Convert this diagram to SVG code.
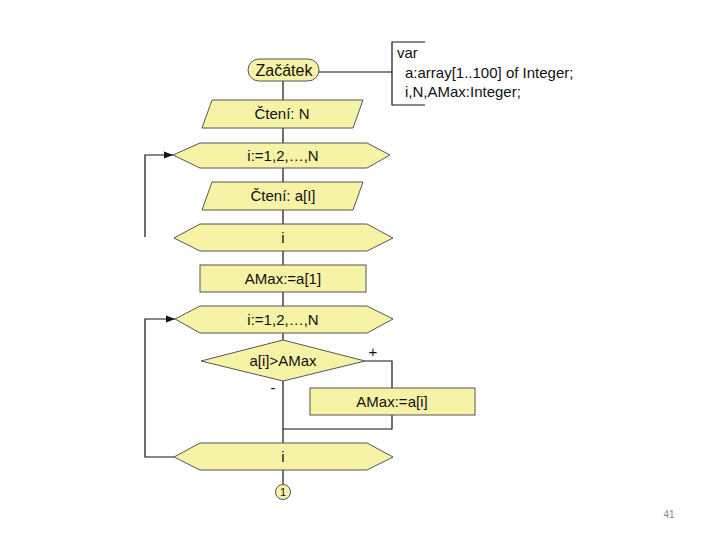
<svg xmlns="http://www.w3.org/2000/svg" width="720" height="540" viewBox="0 0 720 540">
<defs>
<style>
.n{fill:#f7f3a6;stroke:#555;stroke-width:1}
.t{font-family:"Liberation Sans",Arial,sans-serif;font-size:15px;fill:#111;text-anchor:middle}
.c{fill:none;stroke:#111;stroke-width:1.2}
.v{font-family:"Liberation Sans",Arial,sans-serif;font-size:15px;fill:#111}
</style>
<marker id="ah" viewBox="0 0 10 10" refX="10" refY="5" markerWidth="9" markerHeight="9" markerUnits="userSpaceOnUse" orient="auto">
<path d="M0,1 L10,5 L0,9 z" fill="#111"/>
</marker>
</defs>
<rect width="720" height="540" fill="#fff"/>
<g id="connectors">
<line class="c" x1="283" y1="81" x2="283" y2="100"/>
<line class="c" x1="319" y1="72" x2="392" y2="72"/>
<line class="c" x1="283" y1="128" x2="283" y2="143"/>
<line class="c" x1="283" y1="168" x2="283" y2="182"/>
<line class="c" x1="283" y1="210" x2="283" y2="224"/>
<line class="c" x1="283" y1="251" x2="283" y2="265"/>
<line class="c" x1="283" y1="292" x2="283" y2="306"/>
<line class="c" x1="283" y1="333" x2="283" y2="340"/>
<path class="c" d="M145,237 V155 H173" marker-end="url(#ah)"/>
<path class="c" d="M365,361 H392 V388"/>
<line class="c" x1="283" y1="381" x2="283" y2="443"/>
<path class="c" d="M392,415 V429 H283"/>
<path class="c" d="M174,457 H145 V319 H175" marker-end="url(#ah)"/>
<line class="c" x1="283" y1="470" x2="283" y2="484"/>
</g>
<g id="start">
<rect class="n" x="248" y="59" width="71" height="22" rx="11"/>
<text class="t" x="284" y="76" style="font-size:16px">Začátek</text>
</g>
<g id="vars">
<path class="c" d="M425,42 H392 V105 H425"/>
<text class="v" x="397" y="58">var</text>
<text class="v" x="405" y="78">a:array[1..100] of Integer;</text>
<text class="v" x="405" y="97">i,N,AMax:Integer;</text>
</g>
<g id="read-n">
<polygon class="n" points="212,100 363,100 353,128 202,128"/>
<text class="t" x="282" y="119">Čtení: N</text>
</g>
<g id="loop1">
<polygon class="n" points="173,155 200,143 367,143 390,155 367,168 200,168"/>
<text class="t" x="283" y="161">i:=1,2,…,N</text>
</g>
<g id="read-a">
<polygon class="n" points="212,182 363,182 353,210 202,210"/>
<text class="t" x="283" y="201">Čtení: a[I]</text>
</g>
<g id="loop1-end">
<polygon class="n" points="174,238 200,224 367,224 393,238 367,251 200,251"/>
<text class="t" x="283" y="243">i</text>
</g>
<g id="init">
<rect class="n" x="200" y="265" width="166" height="27"/>
<text class="t" x="283" y="284">AMax:=a[1]</text>
</g>
<g id="loop2">
<polygon class="n" points="175,319 200,306 367,306 393,319 367,333 200,333"/>
<text class="t" x="283" y="325">i:=1,2,…,N</text>
</g>
<g id="cond">
<polygon class="n" points="201,361 283,340 365,361 283,381"/>
<text class="t" x="283" y="366">a[i]&gt;AMax</text>
<text class="t" x="373" y="357">+</text>
<text class="t" x="273" y="393">-</text>
</g>
<g id="assign">
<rect class="n" x="310" y="388" width="165" height="27"/>
<text class="t" x="392" y="407">AMax:=a[i]</text>
</g>
<g id="loop2-end">
<polygon class="n" points="174,457 200,443 367,443 393,457 367,470 200,470"/>
<text class="t" x="283" y="462">i</text>
</g>
<g id="conn1">
<circle class="n" cx="283" cy="492" r="7.5"/>
<text class="t" x="283" y="496" style="font-size:11px">1</text>
</g>
<text x="669" y="518" style="font-family:'Liberation Sans',Arial,sans-serif;font-size:10px;fill:#888;text-anchor:middle">41</text>
</svg>
